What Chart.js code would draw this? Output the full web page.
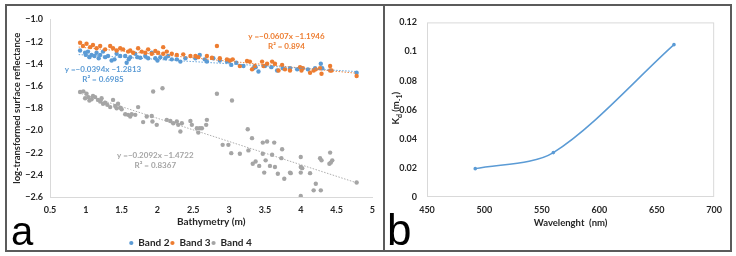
<!DOCTYPE html>
<html>
<head>
<meta charset="utf-8">
<script src="https://cdn.jsdelivr.net/npm/chart.js@4.4.1/dist/chart.umd.min.js"></script>
<style>
body { margin: 0; width: 736px; height: 256px; background: #fff; position: relative; overflow: hidden; }
#frame { position: absolute; left: 5px; top: 4px; width: 723px; height: 244px; border: 2px solid #5b5b5b; }
#divider { position: absolute; left: 383px; top: 4px; width: 2px; height: 248px; background: #5b5b5b; }
.panel { position: absolute; font-family: "Liberation Sans", Arial, sans-serif; line-height: 1; color: #000; }
#ca { position: absolute; left: 7px; top: 7px; }
#cb { position: absolute; left: 386px; top: 7px; }
</style>
</head>
<body>
<div id="frame"></div>
<div id="divider"></div>
<canvas id="ca" width="376" height="251"></canvas>
<canvas id="cb" width="344" height="243"></canvas>
<div class="panel" style="left:11px;top:211px;font-size:40px;">a</div>
<div class="panel" style="left:387px;top:208px;font-size:44px;">b</div>
<script>
// panel a : band reflectance vs depth
const depth2 = [0.92, 0.99, 1.0, 1.03, 1.05, 1.08, 1.12, 1.15, 1.18, 1.2, 1.24, 1.27, 1.31, 1.36, 1.4, 1.43, 1.48, 1.55, 1.57, 1.6, 1.62, 1.69, 1.72, 1.76, 1.83, 1.87, 1.92, 1.97, 2.0, 2.04, 2.11, 2.15, 2.2, 2.27, 2.32, 2.39, 2.53, 2.59, 2.66, 2.69, 2.78, 2.87, 2.97, 3.0, 3.03, 3.1, 3.2, 3.34, 3.37, 3.41, 3.5, 3.59, 3.67, 3.75, 3.85, 3.95, 4.01, 4.1, 4.2, 4.28, 4.3, 4.78];
const refl2 = [-1.28, -1.30, -1.32, -1.29, -1.34, -1.32, -1.33, -1.30, -1.35, -1.32, -1.29, -1.34, -1.33, -1.37, -1.36, -1.31, -1.33, -1.33, -1.39, -1.36, -1.34, -1.31, -1.34, -1.345, -1.33, -1.35, -1.30, -1.35, -1.37, -1.34, -1.35, -1.33, -1.36, -1.36, -1.38, -1.35, -1.35, -1.32, -1.36, -1.38, -1.35, -1.37, -1.38, -1.375, -1.41, -1.39, -1.42, -1.44, -1.43, -1.47, -1.42, -1.43, -1.46, -1.44, -1.44, -1.45, -1.44, -1.45, -1.44, -1.40, -1.44, -1.48];

const depth3 = [0.92, 0.96, 1.01, 1.06, 1.1, 1.15, 1.2, 1.27, 1.34, 1.38, 1.43, 1.48, 1.52, 1.59, 1.62, 1.66, 1.73, 1.78, 1.83, 1.87, 1.92, 1.97, 2.01, 2.08, 2.08, 2.13, 2.2, 2.27, 2.36, 2.46, 2.53, 2.57, 2.69, 2.76, 2.83, 2.87, 2.97, 3.01, 3.05, 3.15, 3.25, 3.29, 3.32, 3.36, 3.46, 3.48, 3.53, 3.6, 3.64, 3.69, 3.74, 3.78, 3.85, 3.99, 4.01, 4.03, 4.13, 4.18, 4.21, 4.27, 4.29, 4.41, 4.41, 4.43, 4.78];
const refl3 = [-1.21, -1.24, -1.22, -1.25, -1.23, -1.26, -1.24, -1.27, -1.24, -1.26, -1.28, -1.26, -1.27, -1.29, -1.28, -1.30, -1.26, -1.29, -1.30, -1.27, -1.31, -1.285, -1.30, -1.31, -1.25, -1.29, -1.31, -1.32, -1.315, -1.33, -1.33, -1.34, -1.33, -1.345, -1.24, -1.35, -1.36, -1.37, -1.36, -1.42, -1.375, -1.38, -1.45, -1.42, -1.38, -1.42, -1.40, -1.38, -1.40, -1.46, -1.41, -1.45, -1.46, -1.43, -1.46, -1.44, -1.48, -1.46, -1.45, -1.44, -1.49, -1.42, -1.46, -1.46, -1.51];

const depth4 = [0.92, 0.965, 1.01, 0.99, 1.035, 1.05, 1.1, 1.08, 1.13, 1.17, 1.2, 1.22, 1.24, 1.27, 1.3, 1.34, 1.38, 1.41, 1.43, 1.48, 1.45, 1.5, 1.55, 1.59, 1.62, 1.64, 1.69, 1.73, 1.8, 1.85, 1.92, 1.93, 1.99, 1.94, 2.07, 2.13, 2.18, 2.22, 2.27, 2.29, 2.32, 2.34, 2.46, 2.48, 2.55, 2.57, 2.59, 2.62, 2.68, 2.69, 2.83, 3.04, 2.91, 2.99, 3.03, 3.15, 3.26, 3.32, 3.27, 3.33, 3.37, 3.42, 3.47, 3.53, 3.47, 3.51, 3.49, 3.6, 3.57, 3.63, 3.64, 3.68, 3.73, 3.74, 3.77, 3.85, 3.86, 4.0, 4.0, 4.02, 4.0, 4.13, 4.21, 4.18, 4.28, 4.0, 4.27, 4.29, 4.41, 4.44, 4.4, 4.42, 4.78];
const refl4 = [-1.654, -1.648, -1.67, -1.71, -1.70, -1.73, -1.69, -1.72, -1.70, -1.725, -1.74, -1.71, -1.76, -1.75, -1.77, -1.79, -1.725, -1.78, -1.80, -1.795, -1.76, -1.81, -1.855, -1.86, -1.875, -1.855, -1.86, -1.79, -1.925, -1.875, -1.87, -1.92, -1.95, -1.65, -1.62, -1.905, -1.915, -1.935, -1.92, -1.95, -2.01, -1.935, -1.915, -1.95, -1.98, -2.02, -1.98, -1.98, -1.95, -1.905, -1.67, -1.73, -2.13, -2.13, -2.205, -2.21, -1.99, -2.07, -2.18, -2.30, -2.28, -2.32, -2.11, -2.10, -2.21, -2.27, -2.38, -2.22, -2.32, -2.11, -2.33, -2.39, -2.25, -2.17, -2.435, -2.38, -2.385, -2.24, -2.33, -2.34, -2.38, -2.385, -2.48, -2.54, -2.54, -2.59, -2.25, -2.27, -2.20, -2.27, -2.30, -2.29, -2.47];

// trendline end points
const trendX = [0.9, 4.78];
const trend2 = [-1.317, -1.470];
const trend3 = [-1.249, -1.485];
const trend4 = [-1.661, -2.472];

const bandNames = ["Band 2", "Band 3", "Band 4"];
const equations = ["y =\u22120.0394x \u22121.2813", "y =\u22120.0607x \u22121.1946", "y =\u22120.2092x \u22121.4722"];
const rSquared = ["R\u00b2 = 0.6985", "R\u00b2 = 0.894", "R\u00b2 = 0.8367"];

const xTicksA = [0.5, 1, 1.5, 2, 2.5, 3, 3.5, 4, 4.5, 5];
const yTicksA = [-2.6, -2.4, -2.2, -2.0, -1.8, -1.6, -1.4, -1.2, -1.0];

// panel b : Kd vs wavelength
const wavelength = [492, 560, 665];
const kd = [0.0195, 0.0305, 0.1047];
const xTicksB = [450, 500, 550, 600, 650, 700];
const yTicksB = [0, 0.02, 0.04, 0.06, 0.08, 0.1, 0.12];

const BLUE = "#5b9bd5", ORANGE = "#ed7d31", GREY = "#a5a5a5";
const FONT = "Lato, 'Open Sans', sans-serif";
const TXT = "#262626";

const toPts = (xs, ys) => xs.map((x, i) => ({ x: x, y: ys[i] }));
const fixTicks = list => s => { s.ticks = list.map(v => ({ value: v })); };

function scatterSet(label, xs, ys, color, order) {
    return { label: label, data: toPts(xs, ys), backgroundColor: color, borderColor: color,
             pointRadius: 2.2, pointBorderWidth: 0, showLine: false, order: order };
}
function trendSet(ys, color) {
    return { label: "trend", data: toPts(trendX, ys), borderColor: color, borderWidth: 1,
             borderDash: [1.5, 1.5], pointRadius: 0, showLine: true, order: -1 };
}

// equation labels (anchor in data units)
const eqLabels = [
    { text: equations[0], r2: rSquared[0], x: 1.24, y: -1.451, y2: -1.539, color: BLUE },
    { text: equations[1], r2: rSquared[1], x: 3.80, y: -1.150, y2: -1.239, color: ORANGE },
    { text: equations[2], r2: rSquared[2], x: 1.97, y: -2.229, y2: -2.317, color: GREY }
];

const equationPlugin = {
    id: "equations",
    afterDatasetsDraw(chart) {
        const ctx = chart.ctx, xs = chart.scales.x, ys = chart.scales.y;
        ctx.save();
        ctx.font = "bold 8px " + FONT;
        ctx.textAlign = "center";
        ctx.textBaseline = "middle";
        eqLabels.forEach(l => {
            ctx.fillStyle = l.color;
            ctx.fillText(l.text, xs.getPixelForValue(l.x), ys.getPixelForValue(l.y));
            ctx.fillText(l.r2, xs.getPixelForValue(l.x), ys.getPixelForValue(l.y2));
        });
        ctx.restore();
    }
};

const tickFont = { family: FONT, size: 9, weight: "bold" };

new Chart(document.getElementById("ca"), {
    type: "scatter",
    data: {
        datasets: [
            scatterSet(bandNames[0], depth2, refl2, BLUE, 2),
            scatterSet(bandNames[1], depth3, refl3, ORANGE, 1),
            scatterSet(bandNames[2], depth4, refl4, GREY, 3),
            trendSet(trend2, "rgba(91,155,213,0.9)"),
            trendSet(trend3, "rgba(237,125,49,0.9)"),
            trendSet(trend4, "rgba(165,165,165,0.9)")
        ]
    },
    options: {
        responsive: false,
        animation: false,
        layout: { padding: { top: 9, right: 9, left: 0, bottom: 0 } },
        plugins: {
            tooltip: { enabled: false },
            legend: {
                position: "bottom",
                labels: {
                    filter: item => item.datasetIndex < 3,
                    sort: (a, b) => a.datasetIndex - b.datasetIndex,
                    usePointStyle: true, pointStyle: "circle",
                    boxWidth: 4, boxHeight: 3, padding: 1,
                    color: TXT, font: { family: FONT, size: 10, weight: "bold" }
                }
            }
        },
        scales: {
            x: {
                type: "linear", min: xTicksA[0], max: xTicksA[xTicksA.length - 1],
                afterBuildTicks: fixTicks(xTicksA),
                ticks: { padding: 8, color: TXT, font: tickFont, callback: v => String(v) },
                grid: { display: false, drawTicks: false },
                border: { color: "#d9d9d9" },
                title: { display: true, text: "Bathymetry (m)", color: TXT, padding: { top: 0, bottom: 9 },
                         font: { family: FONT, size: 10, weight: "bold" } },
                afterFit: s => { s.height = 40; }
            },
            y: {
                min: yTicksA[0], max: yTicksA[yTicksA.length - 1],
                afterBuildTicks: fixTicks(yTicksA),
                ticks: { padding: 7, color: TXT, font: tickFont,
                         callback: v => v.toFixed(1).replace("-", "\u2212") },
                grid: { display: false, drawTicks: false },
                border: { color: "#d9d9d9" },
                title: { display: true, text: "log-transformed surface reflectance", color: TXT, padding: { top: 4, bottom: 0 },
                         font: { family: FONT, size: 9.5, weight: "bold" } },
                afterFit: s => { s.width = 43; }
            }
        }
    },
    plugins: [equationPlugin]
});

// panel b helpers: plot box + K_d title with sub-scripts
const plotBox = {
    id: "plotBox",
    beforeDatasetsDraw(chart) {
        const a = chart.chartArea, ctx = chart.ctx;
        ctx.save();
        ctx.strokeStyle = "#d9d9d9";
        ctx.lineWidth = 1;
        ctx.strokeRect(a.left + 0.5, a.top + 0.5, a.right - a.left - 1, a.bottom - a.top - 1);
        ctx.restore();
    }
};
const kdTitle = {
    id: "kdTitle",
    afterDraw(chart) {
        const ctx = chart.ctx, a = chart.chartArea;
        const parts = [["K", 0], ["d", 1], [" (m", 0], ["-1", 1], [")", 0]];
        ctx.save();
        ctx.translate(9, (a.top + a.bottom) / 2 - 1.5);
        ctx.rotate(-Math.PI / 2);
        ctx.fillStyle = TXT;
        ctx.textBaseline = "alphabetic";
        const big = "bold 9.5px " + FONT, small = "bold 7px " + FONT;
        let w = 0;
        parts.forEach(p => { ctx.font = p[1] ? small : big; w += ctx.measureText(p[0]).width; });
        let x = -w / 2;
        parts.forEach(p => {
            ctx.font = p[1] ? small : big;
            ctx.fillText(p[0], x, p[1] ? 6.5 : 3.5);
            x += ctx.measureText(p[0]).width;
        });
        ctx.restore();
    }
};

new Chart(document.getElementById("cb"), {
    type: "line",
    data: {
        datasets: [{
            label: "Kd",
            data: toPts(wavelength, kd),
            borderColor: BLUE, backgroundColor: BLUE,
            borderWidth: 1.5, pointRadius: 1.8, pointBorderWidth: 0,
            tension: 0.3, fill: false
        }]
    },
    options: {
        responsive: false,
        animation: false,
        layout: { padding: { top: 9, right: 14, left: 0, bottom: 0 } },
        plugins: { legend: { display: false }, tooltip: { enabled: false } },
        scales: {
            x: {
                type: "linear", min: xTicksB[0], max: xTicksB[xTicksB.length - 1],
                afterBuildTicks: fixTicks(xTicksB),
                ticks: { padding: 8, color: TXT, font: tickFont, callback: v => String(v) },
                grid: { display: false, drawTicks: false },
                border: { display: false },
                title: { display: true, text: "Wavelenght  (nm)", color: TXT, padding: { top: 0, bottom: 21 },
                         font: { family: FONT, size: 9.5, weight: "bold" } },
                afterFit: s => { s.height = 53; }
            },
            y: {
                min: yTicksB[0], max: yTicksB[yTicksB.length - 1],
                afterBuildTicks: fixTicks(yTicksB),
                ticks: { padding: 10, color: TXT, font: tickFont, callback: v => String(v) },
                grid: { display: false, drawTicks: false },
                border: { display: false },
                afterFit: s => { s.width = 41; }
            }
        }
    },
    plugins: [plotBox, kdTitle]
});
</script>
</body>
</html>
